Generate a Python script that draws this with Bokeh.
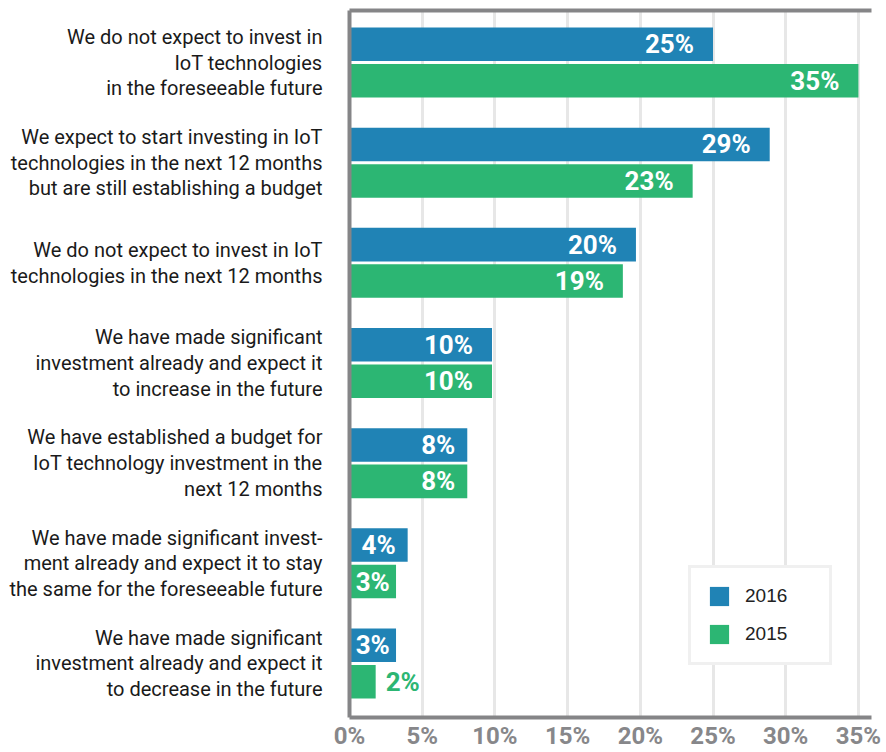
from bokeh.plotting import figure
from bokeh.models import (Range1d, FixedTicker, LinearAxis, ColumnDataSource,
                          Legend, LegendItem, PrintfTickFormatter)
from bokeh.transform import dodge
from bokeh.core.properties import value
from bokeh.embed import file_html
from bokeh.resources import INLINE

categories = [
    "We do not expect to invest in\nIoT technologies\nin the foreseeable future",
    "We expect to start investing in IoT\ntechnologies in the next 12 months\nbut are still establishing a budget",
    "We do not expect to invest in IoT\ntechnologies in the next 12 months",
    "We have made significant\ninvestment already and expect it\nto increase in the future",
    "We have established a budget for\nIoT technology investment in the\nnext 12 months",
    "We have made significant invest-\nment already and expect it to stay\nthe same for the foreseeable future",
    "We have made significant\ninvestment already and expect it\nto decrease in the future",
]
pct_2016 = [25.0, 28.9, 19.7, 9.8, 8.1, 4.0, 3.2]
pct_2015 = [35.0, 23.6, 18.8, 9.8, 8.1, 3.2, 1.8]
label_2016 = ["25%", "29%", "20%", "10%", "8%", "4%", "3%"]
label_2015 = ["35%", "23%", "19%", "10%", "8%", "3%", "2%"]
x_ticks = [0, 5, 10, 15, 20, 25, 30, 35]

BLUE = "#2083b5"
GREEN = "#2cb673"
AXIS_GRAY = "#858587"
FONT = "Roboto"
OFF = 0.182
BAR_H = 0.335

pos = list(range(len(categories)))

p = figure(width=886, height=752, output_backend="svg", toolbar_location=None,
           x_range=Range1d(0, 35.9),
           y_range=Range1d(len(categories) - 1 + 0.54, -0.52),
           min_border_top=10, min_border_right=15, min_border_bottom=0,
           min_border_left=349, background_fill_color="white",
           border_fill_color="white", outline_line_color=None)

src16 = ColumnDataSource(dict(y=pos, v=pct_2016, lab=label_2016))
src15 = ColumnDataSource(dict(y=pos, v=pct_2015, lab=label_2015))

r16 = p.hbar(y=dodge("y", -OFF), left=0, right="v", height=BAR_H, source=src16,
             fill_color=BLUE, line_color=None)
r15 = p.hbar(y=dodge("y", OFF), left=0, right="v", height=BAR_H, source=src15,
             fill_color=GREEN, line_color=None)


def pick(vals, labs, cond, xfun):
    idx = [i for i, v in enumerate(vals) if cond(v)]
    return ColumnDataSource(dict(y=[pos[i] for i in idx],
                                 x=[xfun(vals[i]) for i in idx],
                                 lab=[labs[i] for i in idx]))


for vals, labs, off, col in [(pct_2016, label_2016, -OFF, BLUE),
                             (pct_2015, label_2015, OFF, GREEN)]:
    common = dict(text_baseline="middle", text_font=value(FONT),
                  text_font_style="bold", text_font_size="26px")
    # long bars: right aligned near the bar end
    p.text(x="x", y=dodge("y", off), text="lab",
           source=pick(vals, labs, lambda v: v >= 9, lambda v: v),
           text_align="right", x_offset=-19, text_color="white", **common)
    p.text(x="x", y=dodge("y", off), text="lab",
           source=pick(vals, labs, lambda v: 5 <= v < 9, lambda v: v),
           text_align="right", x_offset=-12, text_color="white", **common)
    # short bars: centred in the bar
    p.text(x="x", y=dodge("y", off), text="lab",
           source=pick(vals, labs, lambda v: 2.5 <= v < 5, lambda v: v / 2),
           text_align="center", text_color="white", **common)
    # tiny bars: label outside
    p.text(x="x", y=dodge("y", off), text="lab",
           source=pick(vals, labs, lambda v: v < 2.5, lambda v: v),
           text_align="left", x_offset=10, text_color=col, **common)

# axes
xa = p.xaxis[0]
xa.ticker = FixedTicker(ticks=x_ticks)
xa.formatter = PrintfTickFormatter(format="%d%%")
xa.axis_line_color = AXIS_GRAY
xa.axis_line_width = 4
xa.major_tick_line_color = None
xa.minor_tick_line_color = None
xa.major_tick_out = 0
xa.major_tick_in = 0
xa.major_label_standoff = 4
xa.major_label_text_font = FONT
xa.major_label_text_font_style = "bold"
xa.major_label_text_font_size = "24px"
xa.major_label_text_color = "#87878a"

ya = p.yaxis[0]
ya.ticker = FixedTicker(ticks=pos)
ya.major_label_overrides = {i: c for i, c in zip(pos, categories)}
ya.axis_line_color = AXIS_GRAY
ya.axis_line_width = 4
ya.major_tick_line_color = None
ya.minor_tick_line_color = None
ya.major_tick_out = 0
ya.major_tick_in = 0
ya.major_label_standoff = 27
ya.major_label_text_font = FONT
ya.major_label_text_font_size = "20px"
ya.major_label_text_line_height = 1.07
ya.major_label_text_color = "#1a1a1a"
ya.major_label_text_align = "right"

top = LinearAxis(ticker=FixedTicker(ticks=[]), axis_line_color=AXIS_GRAY,
                 axis_line_width=4, major_tick_line_color=None,
                 minor_tick_line_color=None, major_label_text_font_size="0px",
                 major_tick_out=0, major_tick_in=0)
p.add_layout(top, "above")

p.ygrid.grid_line_color = None
p.xgrid.ticker = FixedTicker(ticks=x_ticks)
p.xgrid.grid_line_color = "#e7e7e7"
p.xgrid.grid_line_width = 3

legend = Legend(items=[LegendItem(label="2016", renderers=[r16]),
                       LegendItem(label="2015", renderers=[r15])],
                location=(339, 52), glyph_width=24, glyph_height=24,
                label_text_font="Liberation Sans", label_text_font_size="19px",
                label_text_color="#222222", label_standoff=14, label_width=68,
                padding=16, spacing=14, border_line_color="#e2e2e2",
                border_line_width=3, background_fill_color="white",
                background_fill_alpha=1.0, margin=0)
p.add_layout(legend, "center")

open("out.html", "w").write(file_html(p, INLINE))
